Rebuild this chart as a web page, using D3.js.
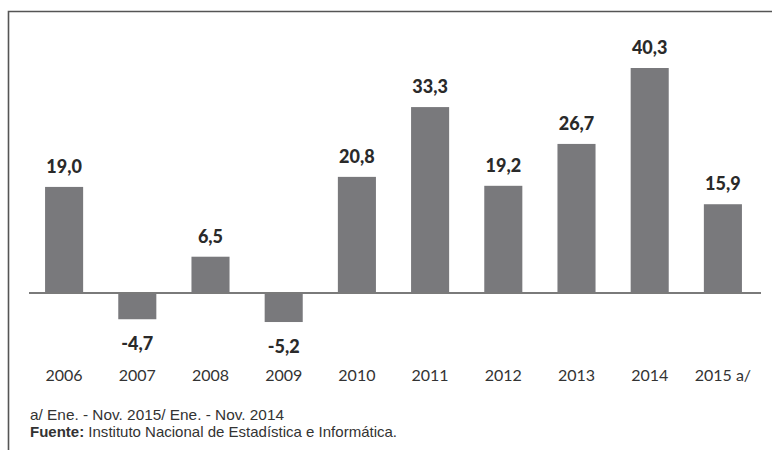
<!DOCTYPE html>
<html>
<head>
<meta charset="utf-8">
<script src="https://cdn.jsdelivr.net/npm/d3@7"></script>
<style>
  body { margin: 0; background: #fff; }
  svg { display: block; }
  .val { font-family: Lato, "Open Sans", sans-serif; font-weight: 900; font-size: 18px; fill: #2a2a2a; }
  .year { font-family: Lato, "Open Sans", sans-serif; font-size: 16px; fill: #333; }
  .note { font-family: "Liberation Sans Narrow", "Liberation Sans", Arial, sans-serif; font-size: 14.5px; fill: #333; }
</style>
</head>
<body>
<svg id="chart" width="772" height="450"></svg>
<script>
// años y variación (%)
const years = ["2006", "2007", "2008", "2009", "2010", "2011", "2012", "2013", "2014", "2015 a/"]
const values = [19.0, -4.7, 6.5, -5.2, 20.8, 33.3, 19.2, 26.7, 40.3, 15.9]
const note1 = "a/ Ene. - Nov. 2015/ Ene. - Nov. 2014"
const sourceLabel = "Fuente:"
const sourceText = " Instituto Nacional de Estadística e Informática."

const svg = d3.select("#chart")

// marco (solo arriba e izquierda visibles)
svg.append("path")
    .attr("d", "M8.5,450 V11.5 H772")
    .attr("fill", "none")
    .attr("stroke", "#555")
    .attr("stroke-width", 1.6)

let x = d3.scaleBand()
    .domain(years)
    .range([27.5, 759.5])
    .paddingInner(0.48)
    .paddingOuter(0.24)

let y = d3.scaleLinear()
    .domain([0, 40.3])
    .range([293, 68])

let fmt = v => v.toFixed(1).replace(".", ",")

svg.selectAll("rect.bar")
    .data(values)
    .join("rect")
    .attr("class", "bar")
    .attr("x", (d, i) => x(years[i]))
    .attr("width", x.bandwidth())
    .attr("y", d => Math.min(y(d), y(0)))
    .attr("height", d => Math.abs(y(d) - y(0)))
    .attr("fill", "#79797c")

// línea base
svg.append("line")
    .attr("x1", 29).attr("x2", 761)
    .attr("y1", y(0)).attr("y2", y(0))
    .attr("stroke", "#7a7a7a")
    .attr("stroke-width", 2)

svg.selectAll("text.val")
    .data(values)
    .join("text")
    .attr("class", "val")
    .attr("text-anchor", "middle")
    .attr("x", (d, i) => x(years[i]) + x.bandwidth() / 2)
    .attr("y", d => d >= 0 ? y(d) - 14 : y(d) + 31)
    .text(d => fmt(d))

svg.selectAll("text.year")
    .data(years)
    .join("text")
    .attr("class", "year")
    .attr("text-anchor", "middle")
    .attr("x", d => x(d) + x.bandwidth() / 2)
    .attr("y", 381)
    .text(d => d)

svg.append("text")
    .attr("class", "note")
    .attr("x", 30).attr("y", 420)
    .attr("textLength", 254)
    .attr("lengthAdjust", "spacingAndGlyphs")
    .text(note1)

let src = svg.append("text")
    .attr("class", "note")
    .attr("x", 30).attr("y", 437)
    .attr("textLength", 367)
    .attr("lengthAdjust", "spacingAndGlyphs")
src.append("tspan").attr("font-weight", "bold").text(sourceLabel)
src.append("tspan").text(sourceText)
</script>
</body>
</html>
